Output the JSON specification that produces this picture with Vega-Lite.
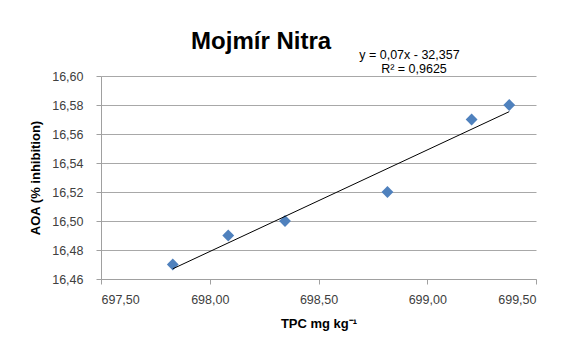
{
  "$schema": "https://vega.github.io/schema/vega-lite/v6.json",
  "width": 435,
  "height": 203,
  "autosize": "none",
  "padding": {"left": 101, "top": 76, "right": 36, "bottom": 67},
  "background": "white",
  "config": {
    "font": "Liberation Sans",
    "view": {"stroke": null},
    "axis": {
      "labelFont": "Liberation Sans",
      "titleFont": "Liberation Sans",
      "labelColor": "#404040",
      "titleColor": "#000000",
      "labelFontSize": 12.5,
      "titleFontSize": 13,
      "titleFontWeight": "bold",
      "domainColor": "#a0a0a0",
      "tickColor": "#a0a0a0",
      "gridColor": "#a8a8a8",
      "tickSize": 5,
      "labelOverlap": false
    }
  },
  "layer": [
    {
      "data": {"name": "pts", "values": [
        {"tpc": 697.83, "aoa": 16.47},
        {"tpc": 698.085, "aoa": 16.49},
        {"tpc": 698.346, "aoa": 16.50},
        {"tpc": 698.817, "aoa": 16.52},
        {"tpc": 699.204, "aoa": 16.57},
        {"tpc": 699.377, "aoa": 16.58}
      ]},
      "layer": [
        {
          "mark": {"type": "point", "shape": "diamond", "filled": true, "color": "#4f81bd", "opacity": 1, "size": 140},
          "encoding": {
            "x": {
              "field": "tpc", "type": "quantitative",
              "scale": {"domain": [697.5, 699.5], "zero": false, "nice": false},
              "axis": {"values": [697.5, 698, 698.5, 699, 699.5], "labelExpr": "replace(format(datum.value, '.2f'), '.', ',')", "grid": false, "title": "TPC mg kg⁻¹", "labelPadding": 9, "titlePadding": 12}
            },
            "y": {
              "field": "aoa", "type": "quantitative",
              "scale": {"domain": [16.46, 16.6], "zero": false, "nice": false},
              "axis": {"values": [16.46, 16.48, 16.5, 16.52, 16.54, 16.56, 16.58, 16.6], "labelExpr": "replace(format(datum.value, '.2f'), '.', ',')", "grid": true, "title": "AOA (% inhibition)", "labelPadding": 13, "titlePadding": 9}
            }
          }
        },
        {
          "transform": [{"regression": "aoa", "on": "tpc", "method": "linear"}],
          "mark": {"type": "line", "color": "#000000", "strokeWidth": 1},
          "encoding": {
            "x": {"field": "tpc", "type": "quantitative",
              "axis": {"values": [697.5, 698, 698.5, 699, 699.5], "labelExpr": "replace(format(datum.value, '.2f'), '.', ',')", "grid": false, "title": "TPC mg kg⁻¹", "labelPadding": 9, "titlePadding": 12}},
            "y": {"field": "aoa", "type": "quantitative",
              "axis": {"values": [16.46, 16.48, 16.5, 16.52, 16.54, 16.56, 16.58, 16.6], "labelExpr": "replace(format(datum.value, '.2f'), '.', ',')", "grid": true, "title": "AOA (% inhibition)", "labelPadding": 13, "titlePadding": 9}}
          }
        }
      ]
    },
    {
      "data": {"values": [
        {"label": "Mojmír Nitra", "kind": "title"}
      ]},
      "mark": {"type": "text", "fontSize": 24, "fontWeight": "bold", "color": "#000000", "align": "center", "baseline": "alphabetic", "font": "Liberation Sans"},
      "encoding": {
        "x": {"datum": 698.236, "type": "quantitative",
          "axis": {"values": [697.5, 698, 698.5, 699, 699.5], "labelExpr": "replace(format(datum.value, '.2f'), '.', ',')", "grid": false, "title": "TPC mg kg⁻¹", "labelPadding": 9, "titlePadding": 12}},
        "y": {"datum": 16.6187, "type": "quantitative",
          "axis": {"values": [16.46, 16.48, 16.5, 16.52, 16.54, 16.56, 16.58, 16.6], "labelExpr": "replace(format(datum.value, '.2f'), '.', ',')", "grid": true, "title": "AOA (% inhibition)", "labelPadding": 13, "titlePadding": 9}},
        "text": {"field": "label"}
      }
    },
    {
      "data": {"values": [{"label": "y = 0,07x - 32,357"}]},
      "mark": {"type": "text", "fontSize": 12.5, "color": "#000000", "align": "center", "baseline": "alphabetic", "font": "Liberation Sans"},
      "encoding": {
        "x": {"datum": 698.918, "type": "quantitative",
          "axis": {"values": [697.5, 698, 698.5, 699, 699.5], "labelExpr": "replace(format(datum.value, '.2f'), '.', ',')", "grid": false, "title": "TPC mg kg⁻¹", "labelPadding": 9, "titlePadding": 12}},
        "y": {"datum": 16.6118, "type": "quantitative",
          "axis": {"values": [16.46, 16.48, 16.5, 16.52, 16.54, 16.56, 16.58, 16.6], "labelExpr": "replace(format(datum.value, '.2f'), '.', ',')", "grid": true, "title": "AOA (% inhibition)", "labelPadding": 13, "titlePadding": 9}},
        "text": {"field": "label"}
      }
    },
    {
      "data": {"values": [{"label": "R² = 0,9625"}]},
      "mark": {"type": "text", "fontSize": 12.5, "color": "#000000", "align": "center", "baseline": "alphabetic", "font": "Liberation Sans"},
      "encoding": {
        "x": {"datum": 698.939, "type": "quantitative",
          "axis": {"values": [697.5, 698, 698.5, 699, 699.5], "labelExpr": "replace(format(datum.value, '.2f'), '.', ',')", "grid": false, "title": "TPC mg kg⁻¹", "labelPadding": 9, "titlePadding": 12}},
        "y": {"datum": 16.602, "type": "quantitative",
          "axis": {"values": [16.46, 16.48, 16.5, 16.52, 16.54, 16.56, 16.58, 16.6], "labelExpr": "replace(format(datum.value, '.2f'), '.', ',')", "grid": true, "title": "AOA (% inhibition)", "labelPadding": 13, "titlePadding": 9}},
        "text": {"field": "label"}
      }
    }
  ]
}
